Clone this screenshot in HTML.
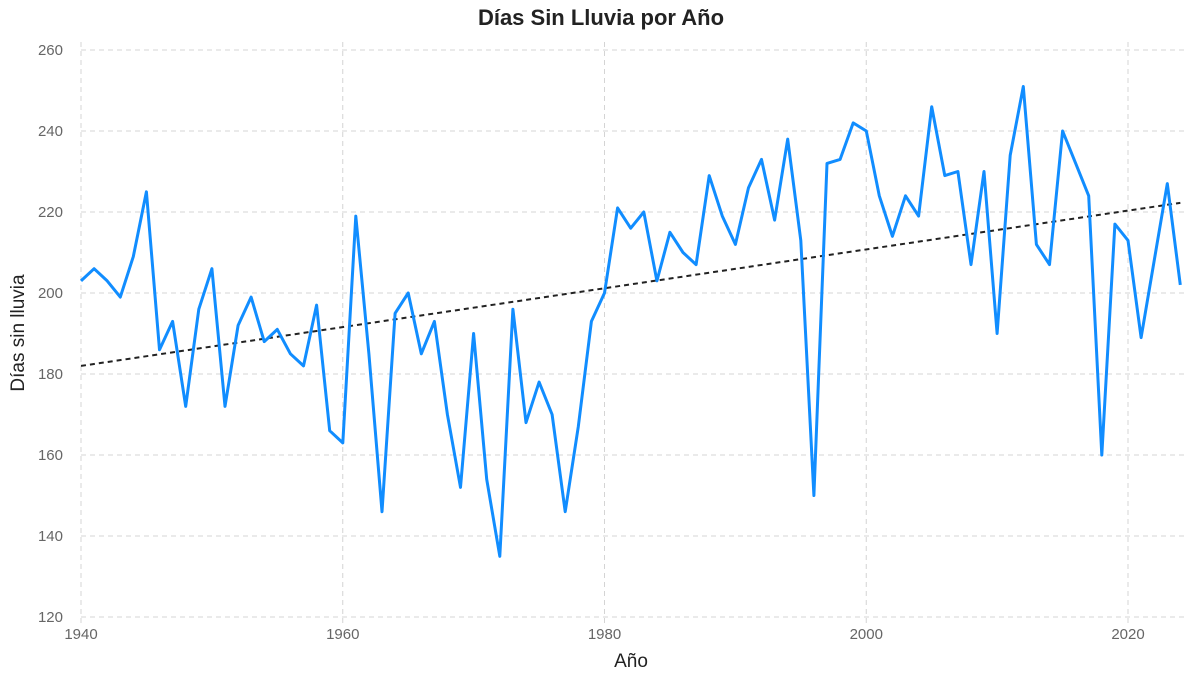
<!DOCTYPE html>
<html><head><meta charset="utf-8"><style>
body{margin:0;background:#fff;font-family:"Liberation Sans",sans-serif}
svg text{font-family:"Liberation Sans",sans-serif}
</style></head><body>
<svg id="chart" width="1203" height="676" xmlns="http://www.w3.org/2000/svg">
<text x="601" y="25" text-anchor="middle" font-size="22" font-weight="bold" fill="#222">Días Sin Lluvia por Año</text>
<text transform="translate(24,333) rotate(-90)" text-anchor="middle" font-size="19" fill="#222">Días sin lluvia</text>
<text x="631" y="667" text-anchor="middle" font-size="19" fill="#222">Año</text>
<g id="grid"></g><g id="ticks"></g><g id="series"></g>
</svg>
<script>
const years = [];
for (let y = 1940; y <= 2024; y++) years.push(y);
const values = [203,206,203,199,209,225,186,193,172,196,206,172,192,199,188,191,185,182,197,166,163,219,185,146,195,200,185,193,170,152,190,154,135,196,168,178,170,146,167,193,200,221,216,220,203,215,210,207,229,219,212,226,233,218,238,213,150,232,233,242,240,224,214,224,219,246,229,230,207,230,190,234,251,212,207,240,232,224,160,217,213,189,208,227,202];
const yTicks = [120,140,160,180,200,220,240,260];
const xTicks = [1940,1960,1980,2000,2020];
const NS="http://www.w3.org/2000/svg";
const x0=81,x1=1128,yr0=1940,yr1=2020,yTop=50,yBot=617,vMin=120,vMax=260,plotRight=1188;
const sx=v=>x0+(v-yr0)*(x1-x0)/(yr1-yr0);
const sy=v=>yBot-(v-vMin)*(yBot-yTop)/(vMax-vMin);
function mk(tag,attrs,parent){const e=document.createElementNS(NS,tag);for(const k in attrs)e.setAttribute(k,attrs[k]);parent.appendChild(e);return e;}
const grid=document.getElementById('grid'),ticks=document.getElementById('ticks'),series=document.getElementById('series');
yTicks.forEach(t=>{
  const l=mk('line',{x1:x0,x2:plotRight,y1:sy(t),y2:sy(t),stroke:'#d4d4d4','stroke-dasharray':'5,4','stroke-width':1},grid);
  
  
  const tx=mk('text',{x:63,y:sy(t)+5,'text-anchor':'end','font-size':15,fill:'#666'},ticks);
  tx.textContent=t;
  
  
});
xTicks.forEach(t=>{
  const l=mk('line',{x1:sx(t),x2:sx(t),y1:yTop-8,y2:yBot+10,stroke:'#d4d4d4','stroke-dasharray':'5,4','stroke-width':1},grid);
  
  
  const tx=mk('text',{x:sx(t),y:639,'text-anchor':'middle','font-size':15,fill:'#666'},ticks);
  tx.textContent=t;
  
  
});
// trend line (least squares)
const n=years.length;let mx=0,my=0;years.forEach((y,i)=>{mx+=y;my+=values[i];});mx/=n;my/=n;
let num=0,den=0;years.forEach((y,i)=>{num+=(y-mx)*(values[i]-my);den+=(y-mx)*(y-mx);});
const slope=num/den,icpt=my-slope*mx;
const tr=mk('line',{x1:sx(years[0]),y1:sy(icpt+slope*years[0]),x2:sx(years[n-1]),y2:sy(icpt+slope*years[n-1]),stroke:'#222','stroke-width':2,'stroke-dasharray':'5,4'},series);


const pts=years.map((y,i)=>sx(y).toFixed(1)+','+sy(values[i]).toFixed(1)).join(' ');
const pl=mk('polyline',{points:pts,fill:'none',stroke:'#118dff','stroke-width':3,'stroke-linejoin':'round'},series);


</script>
</body></html>
